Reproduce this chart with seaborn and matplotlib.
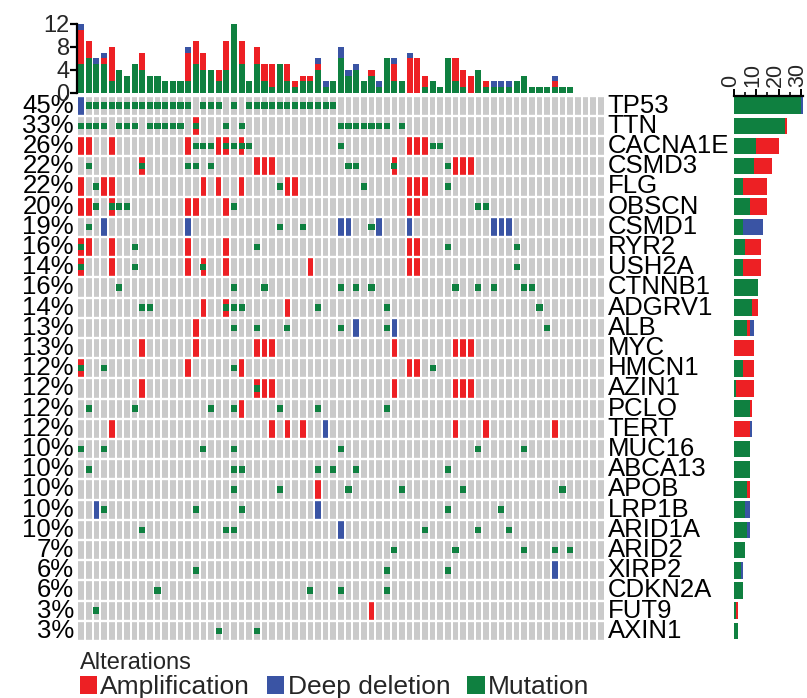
import numpy as np
import pandas as pd
import matplotlib
matplotlib.use("Agg")
import matplotlib.pyplot as plt
from matplotlib.colors import ListedColormap
from matplotlib.patches import Patch
from matplotlib.ticker import MultipleLocator
from matplotlib.transforms import ScaledTranslation
import seaborn as sns

# ---------------- data ----------------
genes = ["TP53", "TTN", "CACNA1E", "CSMD3", "FLG", "OBSCN", "CSMD1", "RYR2", "USH2A",
         "CTNNB1", "ADGRV1", "ALB", "MYC", "HMCN1", "AZIN1", "PCLO", "TERT", "MUC16",
         "ABCA13", "APOB", "LRP1B", "ARID1A", "ARID2", "XIRP2", "CDKN2A", "FUT9", "AXIN1"]
n_samples = 69

amplification = {
    "TTN": [15],
    "CACNA1E": [0, 1, 4, 14, 18, 19, 21, 43, 44, 45],
    "CSMD3": [8, 23, 24, 25, 41, 49, 50, 51],
    "FLG": [0, 3, 4, 16, 18, 21, 27, 28, 43, 44, 45],
    "OBSCN": [0, 1, 4, 14, 15, 19, 43, 44],
    "RYR2": [0, 1, 4, 14, 19, 43, 44],
    "USH2A": [0, 4, 14, 16, 19, 30, 43, 44],
    "ADGRV1": [16, 19, 27],
    "ALB": [15],
    "MYC": [8, 15, 23, 24, 25, 41, 49, 50, 51],
    "HMCN1": [0, 14, 21, 43, 44],
    "AZIN1": [8, 23, 24, 25, 41, 49, 50, 51],
    "PCLO": [21],
    "TERT": [4, 25, 27, 29, 49, 53, 62],
    "APOB": [31],
    "FUT9": [38],
}
deep_deletion = {
    "TP53": [0],
    "CSMD1": [3, 14, 34, 35, 39, 43, 54, 55, 56],
    "ALB": [36, 41],
    "TERT": [32],
    "LRP1B": [2, 31],
    "ARID1A": [34],
    "XIRP2": [62],
}
mutation = {
    "TP53": [1, 2, 3, 4, 5, 6, 7, 8, 9, 10, 11, 12, 13, 14, 16, 17, 18, 20,
             22, 23, 24, 25, 26, 27, 28, 29, 30, 31, 32, 33],
    "TTN": [0, 1, 2, 3, 5, 6, 7, 9, 10, 11, 12, 13, 15, 19, 21,
            34, 35, 36, 37, 38, 39, 40, 42],
    "CACNA1E": [15, 16, 17, 19, 20, 21, 22, 34, 46, 47],
    "CSMD3": [1, 8, 14, 15, 17, 35, 36, 41, 48],
    "FLG": [2, 26, 37, 48],
    "OBSCN": [2, 4, 5, 6, 20, 52, 53],
    "CSMD1": [1, 26, 29, 38],
    "RYR2": [0, 7, 23, 48, 57],
    "USH2A": [0, 7, 16, 57],
    "CTNNB1": [5, 20, 24, 34, 36, 38, 49, 52, 54, 58, 59],
    "ADGRV1": [8, 9, 19, 20, 21, 31, 40, 60],
    "ALB": [20, 23, 27, 34, 40, 61],
    "HMCN1": [0, 3, 20, 46],
    "AZIN1": [23],
    "PCLO": [1, 7, 17, 20, 26, 31, 40],
    "MUC16": [0, 3, 16, 20, 34, 52, 58],
    "ABCA13": [1, 20, 21, 31, 33, 36, 48],
    "APOB": [20, 26, 35, 42, 50, 63],
    "LRP1B": [3, 15, 21, 48, 55],
    "ARID1A": [8, 19, 20, 45, 52, 56],
    "ARID2": [41, 49, 58, 62, 64],
    "XIRP2": [15, 40, 48],
    "CDKN2A": [10, 30, 34, 40],
    "FUT9": [2],
    "AXIN1": [18, 23],
}

alteration_types = ["Amplification", "Deep deletion", "Mutation"]
colors = {"Amplification": "#ED2024", "Deep deletion": "#3A54A4", "Mutation": "#0F8040"}
cell_gray = "#CACACA"

# ---------------- tables ----------------
records = []
for src, kind in ((amplification, "Amplification"), (deep_deletion, "Deep deletion"),
                  (mutation, "Mutation")):
    for g, cols in src.items():
        for c in cols:
            records.append({"gene": g, "gene_idx": genes.index(g), "sample": c, "type": kind})
events = pd.DataFrame(records)

codes = np.zeros((len(genes), n_samples))
for g, cols in amplification.items():
    codes[genes.index(g), cols] = 1
for g, cols in deep_deletion.items():
    codes[genes.index(g), cols] = 2

altered = events.groupby("gene_idx")["sample"].nunique().reindex(range(len(genes)), fill_value=0)
pct_labels = [f"{round(100 * v / n_samples):.0f}%" for v in altered.values]

# ---------------- figure ----------------
sns.set_theme(style="white")
plt.rcParams["font.family"] = ["Liberation Sans", "DejaVu Sans"]

W, H = 807, 698
fig = plt.figure(figsize=(W / 100, H / 100), dpi=100)

def box(x0, y0, x1, y1):
    return [x0 / W, 1 - y1 / H, (x1 - x0) / W, (y1 - y0) / H]

grid_l, grid_r, grid_t, grid_b = 77.3, 604.5, 95.5, 641.0
ax_m = fig.add_axes(box(grid_l, grid_t, grid_r, grid_b))
ax_t = fig.add_axes(box(grid_l, 24.0, grid_r, 92.7))
ax_r = fig.add_axes(box(734.0, grid_t, 803.0, grid_b))

# main oncoprint grid
cmap = ListedColormap([cell_gray, colors["Amplification"], colors["Deep deletion"]])
sns.heatmap(codes, ax=ax_m, cmap=cmap, vmin=-0.5, vmax=2.5, cbar=False,
            linewidths=1.1, linecolor="white", xticklabels=False,
            yticklabels=pct_labels)
ax_m.hlines(np.arange(len(genes) + 1), 0, n_samples, color="white", lw=1.7)
mut_df = events[events["type"] == "Mutation"]
ax_m.bar(mut_df["sample"] + 0.5, 0.32, bottom=mut_df["gene_idx"] + 0.34, width=0.8,
         color=colors["Mutation"], linewidth=0)
ax_m.tick_params(axis="y", length=0, pad=2.5, labelsize=18.5, labelcolor="black")
for t in ax_m.get_yticklabels():
    t.set_rotation(0)
for i, g in enumerate(genes):
    ax_m.text(n_samples + 0.4, i + 0.5, g, ha="left", va="center", fontsize=18.5,
              color="black")
for s in ax_m.spines.values():
    s.set_visible(False)

# top stacked bars (alterations per sample)
sns.histplot(data=events, x="sample", hue="type",
             hue_order=["Deep deletion", "Amplification", "Mutation"],
             palette=colors, multiple="stack", discrete=True, shrink=0.8,
             alpha=1, linewidth=0, legend=False, ax=ax_t)
ax_t.set_xlim(-0.5, n_samples - 0.5)
ax_t.set_ylim(0, 12)
ax_t.set_yticks([0, 4, 8, 12])
ax_t.set_xticks([])
ax_t.set_xlabel("")
ax_t.set_ylabel("")
for k in ("top", "right", "bottom"):
    ax_t.spines[k].set_visible(False)
ax_t.spines["left"].set_color("black")
ax_t.spines["left"].set_linewidth(1.6)
ax_t.tick_params(axis="y", direction="out", length=5, width=1.6, color="black",
                 labelsize=17, pad=0.5, left=True)

# right stacked bars (alterations per gene)
sns.histplot(data=events, y="gene_idx", hue="type",
             hue_order=["Deep deletion", "Amplification", "Mutation"],
             palette=colors, multiple="stack", discrete=True, shrink=0.82,
             alpha=1, linewidth=0, legend=False, ax=ax_r)
ax_r.set_ylim(len(genes) - 0.5, -0.5)
ax_r.set_xlim(0, 31)
ax_r.set_yticks([])
ax_r.set_xlabel("")
ax_r.set_ylabel("")
ax_r.xaxis.tick_top()
ax_r.set_xticks([0, 10, 20, 30])
ax_r.xaxis.set_minor_locator(MultipleLocator(5))
for k in ("bottom", "right", "left"):
    ax_r.spines[k].set_visible(False)
ax_r.spines["top"].set_color("black")
ax_r.spines["top"].set_linewidth(1.6)
ax_r.tick_params(axis="x", which="major", direction="out", length=5, width=1.4,
                 color="black", labelsize=15.5, pad=1, labelrotation=90, top=True)
ax_r.tick_params(axis="x", which="minor", direction="out", length=3, width=1.2,
                 color="black", top=True, bottom=False)
shift = ScaledTranslation(-3.5 / 100, 0, fig.dpi_scale_trans)
for lab in ax_r.get_xticklabels():
    lab.set_transform(lab.get_transform() + shift)

# legend
handles = [Patch(facecolor=colors[k], edgecolor="none", label=k) for k in alteration_types]
leg = fig.legend(handles=handles, loc="lower left", bbox_to_anchor=(80 / W, -1 / H),
                 ncol=3, title="Alterations", frameon=False, fontsize=19,
                 title_fontsize=17, handlelength=0.65, handleheight=0.65,
                 handletextpad=0.12, columnspacing=0.65, borderpad=0,
                 borderaxespad=0, alignment="left", labelspacing=0.1)
leg._legend_box.sep = 1

fig.savefig("out.png", dpi=100)
